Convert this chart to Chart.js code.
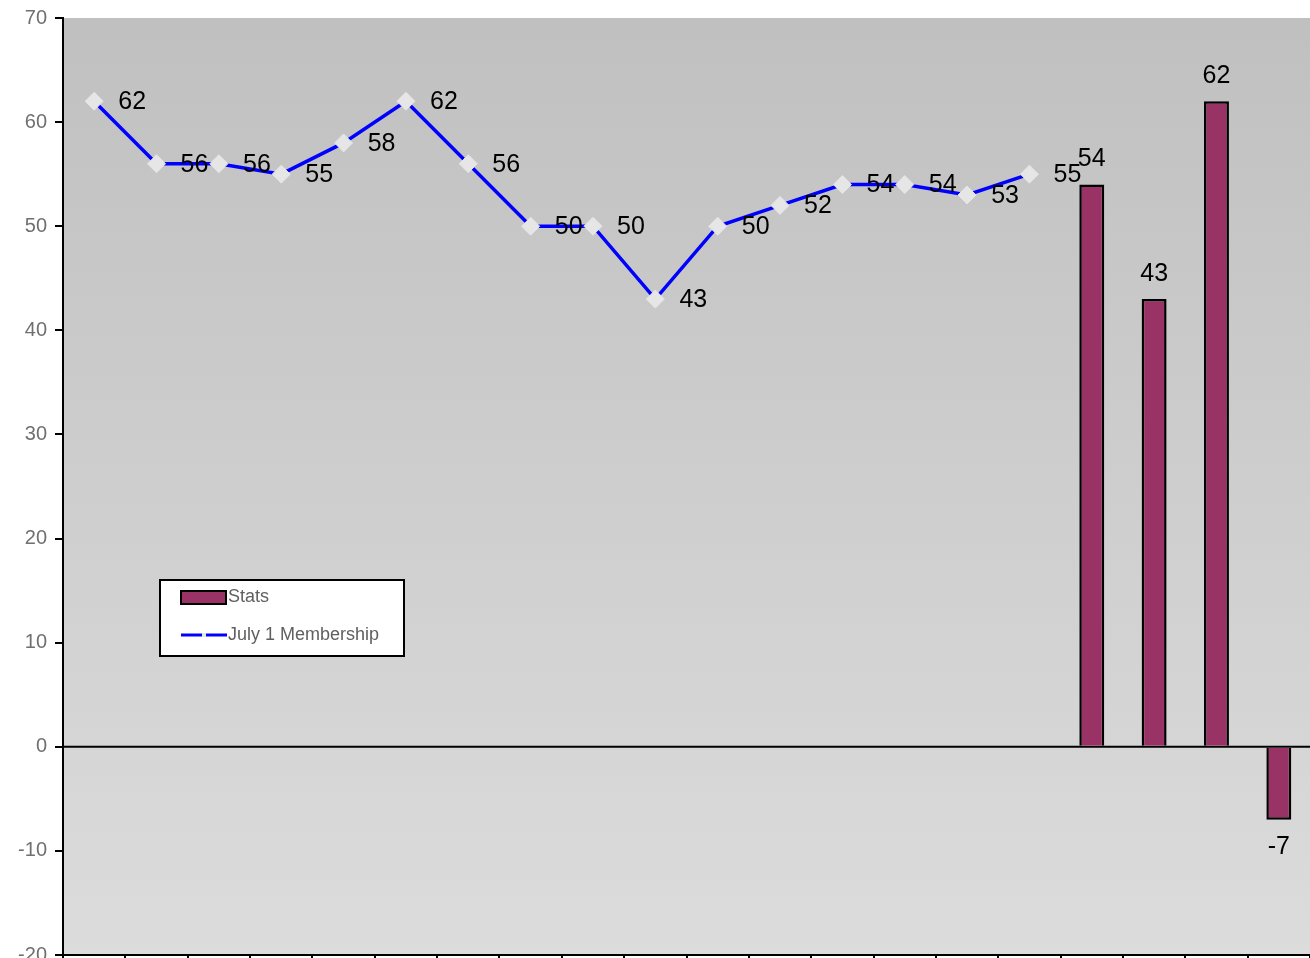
<!DOCTYPE html>
<html>
<head>
<meta charset="utf-8">
<script src="https://cdn.jsdelivr.net/npm/chart.js@4/dist/chart.umd.min.js"></script>
<style>
  html, body { margin: 0; padding: 0; background: #fff; }
  #wrap { width: 1310px; height: 958px; }
</style>
</head>
<body>
<div id="wrap"><canvas id="c" width="1310" height="958"></canvas></div>
<script>
const categories = ['1','2','3','4','5','6','7','8','9','10','11','12','13','14','15','16','17','18','19','20'];
const membership = [62, 56, 56, 55, 58, 62, 56, 50, 50, 43, 50, 52, 54, 54, 53, 55, null, null, null, null];
const stats = [null, null, null, null, null, null, null, null, null, null, null, null, null, null, null, null, 54, 43, 62, -7];
const yTicks = [-20, -10, 0, 10, 20, 30, 40, 50, 60, 70];

const bgPlugin = {
  id: 'bg',
  beforeDraw(chart) {
    const { ctx, chartArea: a } = chart;
    const g = ctx.createLinearGradient(0, a.top, 0, a.bottom);
    g.addColorStop(0, '#c0c0c0');
    g.addColorStop(1, '#dcdcdc');
    ctx.save();
    ctx.fillStyle = g;
    ctx.fillRect(a.left, a.top, a.right - a.left, a.bottom - a.top);
    ctx.restore();
  },
  beforeDatasetsDraw(chart) {
    const { ctx, chartArea: a, scales } = chart;
    const y0 = scales.y.getPixelForValue(0);
    ctx.save();
    ctx.strokeStyle = '#000';
    ctx.lineWidth = 2;
    ctx.beginPath();
    ctx.moveTo(a.left, y0);
    ctx.lineTo(a.right, y0);
    ctx.stroke();
    ctx.restore();
  }
};

const labelPlugin = {
  id: 'labels',
  afterDatasetsDraw(chart) {
    const { ctx } = chart;
    ctx.save();
    ctx.font = '25px "Liberation Sans", Arial, sans-serif';
    ctx.fillStyle = '#000';
    ctx.textAlign = 'center';
    ctx.textBaseline = 'middle';
    chart.data.datasets.forEach((ds, di) => {
      const meta = chart.getDatasetMeta(di);
      meta.data.forEach((el, i) => {
        const v = ds.data[i];
        if (v === null || v === undefined) return;
        if (ds.type === 'line') {
          ctx.fillText(String(v), el.x + 38, el.y + 1);
        } else {
          if (v >= 0) ctx.fillText(String(v), el.x, el.y - 25);
          else ctx.fillText(String(v), el.x, el.y + 27);
        }
      });
    });
    ctx.restore();
  },
  afterDraw(chart) {
    const { ctx, chartArea: a } = chart;
    const lx = a.left + 97, ly = a.top + 562, lw = 244, lh = 76;
    ctx.save();
    ctx.fillStyle = '#fff';
    ctx.fillRect(lx, ly, lw, lh);
    ctx.strokeStyle = '#000';
    ctx.lineWidth = 2;
    ctx.strokeRect(lx, ly, lw, lh);
    const ds = chart.data.datasets;
    ctx.fillStyle = ds[1].backgroundColor;
    ctx.fillRect(lx + 21, ly + 11, 45, 13);
    ctx.strokeRect(lx + 21, ly + 11, 45, 13);
    ctx.strokeStyle = ds[0].borderColor;
    ctx.lineWidth = 3;
    ctx.beginPath();
    ctx.moveTo(lx + 21, ly + 55);
    ctx.lineTo(lx + 67, ly + 55);
    ctx.stroke();
    ctx.fillStyle = '#e6e6e6';
    ctx.fillRect(lx + 42, ly + 53, 4, 4);
    ctx.fillStyle = '#606060';
    ctx.font = '18px "Liberation Sans", Arial, sans-serif';
    ctx.textAlign = 'left';
    ctx.textBaseline = 'middle';
    ctx.fillText(ds[1].label, lx + 68, ly + 17);
    ctx.fillText(ds[0].label, lx + 68, ly + 55);
    ctx.restore();
  }
};

new Chart(document.getElementById('c'), {
  type: 'bar',
  data: {
    labels: categories,
    datasets: [
      {
        type: 'line',
        label: 'July 1 Membership',
        data: membership,
        borderColor: '#0000ff',
        borderWidth: 3.5,
        pointStyle: 'rectRot',
        pointRadius: 9,
        pointBackgroundColor: '#e6e6e6',
        pointBorderColor: '#e6e6e6',
        pointBorderWidth: 1,
        spanGaps: false,
        tension: 0,
        order: 0
      },
      {
        type: 'bar',
        label: 'Stats',
        data: stats,
        backgroundColor: '#993366',
        borderColor: '#000',
        borderWidth: 2.5,
        barPercentage: 0.4,
        categoryPercentage: 1,
        order: 1
      }
    ]
  },
  options: {
    responsive: false,
    animation: false,
    layout: { autoPadding: false, padding: { top: 18, right: 0, left: 0, bottom: 0 } },
    plugins: { legend: { display: false }, tooltip: { enabled: false } },
    scales: {
      x: {
        offset: true,
        grid: { offset: true, drawOnChartArea: false, color: '#000', lineWidth: 2, tickLength: 8 },
        border: { color: '#000', width: 2 },
        ticks: { display: false },
        afterFit(s) { s.height = 3; s.paddingLeft = 0; s.paddingRight = 0; s.paddingTop = 0; s.paddingBottom = 0; }
      },
      y: {
        min: -20,
        max: 70,
        afterBuildTicks(s) { s.ticks = yTicks.map(v => ({ value: v })); },
        grid: { drawOnChartArea: false, color: '#000', lineWidth: 2, tickLength: 8 },
        border: { color: '#000', width: 2 },
        ticks: {
          color: '#707070',
          font: { family: '"Liberation Sans", Arial, sans-serif', size: 20 },
          padding: 8
        },
        afterFit(s) { s.width = 63; s.paddingTop = 0; s.paddingBottom = 0; s.paddingLeft = 0; s.paddingRight = 0; }
      }
    }
  },
  plugins: [bgPlugin, labelPlugin]
});
</script>
</body>
</html>
